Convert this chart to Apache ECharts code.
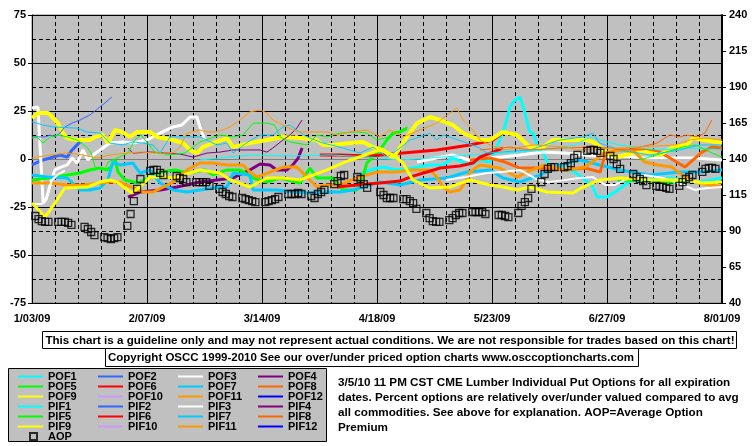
<!DOCTYPE html>
<html><head><meta charset="utf-8">
<script src="https://cdn.jsdelivr.net/npm/echarts@6/dist/echarts.min.js"></script>
<style>html,body{margin:0;padding:0;background:#fff;}#c{width:755px;height:446px;}</style>
</head><body><div id="c"></div>
<script>
// x values are days since 1/03/09; left axis = % over/under valued; right axis = AOP premium
const tickLabels = ['1/03/09','2/07/09','3/14/09','4/18/09','5/23/09','6/27/09','8/01/09'];
const leftTicks = [-75,-50,-25,0,25,50,75];
const rightTicks = [40,65,90,115,140,165,190,215,240];

const POF1 = [[99.8,-8.3],[102.9,-5.7],[106.8,-4.2],[111.1,-5.7],[115.9,-4.7],[121.1,-3.1],[125.1,-3.1],[128.1,0.5],[133.3,-3.1],[136.3,-0.5],[139.4,-1.6],[142.4,9.9],[143.9,16.7],[145.5,27.1],[147,30.7],[148.5,32.3],[150,24],[151.5,14.1],[152.5,13.5],[154,6.2],[155.5,3.6],[157.6,-4.7],[160.7,-4.2],[165.2,-6.8],[168.3,-10.9],[170.7,-14.6],[172,-19.8],[175,-19.8],[177.4,-17.2],[182.6,-10.9],[186.5,-10.9],[194.2,-9.9],[203.3,-12],[210,-9.9]];
const POF2 = [[0,-3.1],[3.3,-0.5],[5.5,0.5],[8.5,2.1],[10.7,1],[12.2,4.7],[14.6,8.9],[16.1,10.9]];
const POF3 = [[0,26.6],[1.8,27.1],[3.4,-22.9],[4.3,-21],[5.5,-13.5],[7,-5.7],[8.8,-4.2],[10.7,-3.1],[12.2,0.5],[13.7,-2.1],[15.5,4.7],[17,-0.5],[18.6,2.1],[20.7,4.7],[23.7,8.3],[27.7,8.9],[30.7,8.3],[35,9.9],[39,13.5],[42.9,16.7],[45.6,17.7],[48.1,21.9],[50.2,21.9],[51.1,16.7],[52.6,9.9],[53,null],[117.2,-1.6],[123,0.5],[128,2.1],[133,-0.5],[139,0.5],[143,1],[148.5,2.1],[155.5,3.6],[162,3.1],[168,2.1],[175,1],[180,1.6],[186.5,0.5],[194.8,0.5],[201.7,0.5],[210,-0.5]];
const POF4 = [[29.2,-19.8],[32.9,-17.2],[39,-16.1],[44.1,-14.6],[51.1,-12],[56.3,-10.9],[61.2,-9.9],[66.3,-5.7],[69.4,-2.6],[72.4,-3.1],[74.5,-5.7],[77.6,-5.7],[79.4,-3.1],[81,0.5],[82.2,5.7]];
const POF5 = [[0,-10.9],[4.9,-9.9],[7,-9.4],[10.7,-8.3],[14.6,-7.3],[17.6,-5.7],[20.7,-4.7],[22.8,-5.7],[24,-4.2],[25.3,-0.5],[26.2,-6.8],[28.3,-10.9],[32.3,-12.5],[39.3,-6.8],[43.5,-5.7],[47.5,-7.3],[52.6,-5.7],[55.1,-8.3],[59.3,-5.7],[63.3,-5.7],[67.3,-9.9],[71.5,-12],[75.5,-9.9],[81.6,-12.5],[84.6,-4.7],[86.7,-9.9],[91.6,-9.9],[94.6,-16.1],[98.9,-16.1],[100.7,-9.4],[101.9,-2.1],[103.8,1],[105.9,4.7],[108,9.9],[109.9,13.5],[112,14.1],[114.1,16.1],[115,null],[178.3,-11.5],[182.9,-10.9],[188,-11.5],[193.2,-12],[198.7,-12]];
const POF6 = [[87.6,2.1],[93.7,2.1],[102.9,1.6],[112.9,3.1],[123.2,4.7],[133.3,7.3],[140.3,9.9],[143.3,13.5]];
const POF7 = [[0,-8.3],[4.6,-9.4],[10.7,-9.9],[14.6,-16.1],[17.6,-16.1],[20.7,-15.1],[23.1,-10.9],[24.6,-1.6],[26.8,-3.1],[30.7,-2.1],[32.9,-7.3],[35.9,-5.7],[39,-12.5],[42.9,-16.1],[47.2,-17.2],[51.1,-16.1],[55.1,-15.1],[59.3,-14.6],[61.2,-7.3],[66.3,-8.3],[67.3,-16.1],[74.6,-16.1],[79.4,-17.2],[84.6,-17.7],[89.8,-17.2],[93.7,-17.2],[97.7,-16.1],[100.7,-14.6],[105.9,-12],[112,-13.5],[118.1,-10.9],[126.3,-9.9],[132.4,-6.8],[139.4,-5.7],[143.3,-9.9],[148.5,-12],[154.8,-8.3],[160.7,-3.1],[166.8,-0.5],[172.8,-3.1],[178.9,-5.7],[188,-8.3],[197.2,-6.8],[203.3,-6.8],[210,-5.7]];
const POF8 = [[133.3,-0.5],[139.4,0.5],[144,-1.6],[148.5,-4.7],[156.1,-4.7],[162.2,-5.7],[168.3,-4.7],[172.9,-6.8],[174.4,2.1],[178,4.7],[186,4.7],[191.1,3.6],[198.7,-4.2],[203.9,3.6],[206.9,6.2],[210,5.7]];
const POF9 = [[0,21.4],[1.8,24],[4.9,24],[7.9,18.7],[9.4,13.5],[10.7,10.9],[13.7,9.9],[17.6,9.9],[19.2,11.5],[21.6,12.5],[23.1,8.3],[25.3,15.1],[27.4,14.1],[29.8,11.5],[32,14.1],[35.9,14.1],[38,11.5],[42.9,9.9],[46,8.3],[48.1,4.7],[50.2,3.1],[52,6.2],[55,8.3],[59.3,10.9],[61.2,6.2],[66.3,8.3],[71.5,9.9],[76.4,11.5],[81.6,10.9],[86.7,9.9],[88.6,7.3],[91.6,7.3],[96.8,8.3],[100.7,8.9],[103.8,6.2],[106.8,4.7],[109.9,0.5],[114.1,11.5],[117.2,18.7],[121.1,21.9],[124.2,20.3],[128.1,17.7],[131.2,13.5],[136.3,9.9],[139.4,9.9],[143.3,14.1],[147.6,12.5],[151.5,6.2],[155.5,6.2],[158.5,9.9],[162.8,9.9],[168.9,9.9],[170.7,8.9],[172.9,6.2],[175,3.1],[178,1],[182.9,3.1],[187.1,3.6],[191.1,2.1],[195.1,6.2],[199.3,7.3],[201.1,10.9],[204.2,9.9],[208.4,8.9],[210,8.3]];
const POF10 = [];
const POF11 = [[0,-12.5],[5.5,-12.5],[10.7,-13.5],[15.5,-13.5],[23.7,-12],[26.8,-12],[33.8,-17.2],[36.8,-17.2],[39.9,-14.6],[42.9,-12],[47.2,-5.7],[51.1,-2.1],[55.1,-2.1],[59.3,-3.1],[64.2,-3.1],[66.3,-6.8],[68.5,-9.4],[72.4,-6.8],[76.4,-4.2],[80.6,-4.2],[83.7,-9.4],[86.7,-14.6],[89.8,-13.5],[93.7,-13.5],[98.9,-9.9],[101.9,-8.3],[105,-6.8],[110.5,-6.8],[115.9,-5.7],[121.1,-5.7],[123.2,-9.4],[125.1,-14.6],[127.2,-17.2],[130.2,-16.1],[132.4,-10.9],[133.3,-6.8],[136.3,-3.1],[142.4,-4.7],[147.6,-9.4],[150.6,-6.8],[156.1,-3.1],[162.2,-5.7],[168.3,-4.2],[174.4,3.1],[179.5,4.7],[183.5,3.6],[186.5,-1.6],[190.5,-3.1],[194.8,-4.2],[198.7,-9.4],[202.7,-12.5],[210,-14.6]];
const POF12 = [];

const PIF1 = [[51.1,-0.5],[66.3,2.1],[79.4,1.6],[90.7,2.1],[102.9,1],[112,-0.5],[121.1,0.5],[133.3,2.1],[142.4,3.1],[148.5,3.6],[156.1,4.7],[165.3,7.3],[169.8,11.5],[172.8,9.9],[178.9,7.3],[191.1,4.7],[200.2,5.7],[210,4.7]];
const PIF2 = [[0,11.5],[4,11.5],[5.5,12.5],[7,11.5],[8.5,13.5],[10,16.7],[12.2,18.7],[14.6,20.3],[17.6,22.9],[20.7,27.1],[22.2,29.2],[24.3,32.3]];
const PIF3 = [[0,-23.4],[3,-23.4],[4.5,-20],[6,-11],[8,-8],[10,-6],[10.5,null],[126,-10.9],[132,-9.4],[138.5,-7.3],[143,-6.8],[148.5,-5.7],[153,-10],[157,-12],[162,-11],[166,-10],[170.7,-9.4],[174.4,-13.5],[177.4,-13.5],[180.4,-10.9],[186.5,-8.3],[192,-9.9],[196,-12],[201.7,-16.1],[205.6,-15.1],[210,-14.6]];
const PIF4 = [[29.2,5.7],[30.7,3.1],[35.9,3.6],[41.1,3.1],[45,2.6],[49,1],[53.3,3.1],[57.2,3.6],[61.2,4.7],[66.3,4.7],[69.4,4.7],[71.5,3.6],[73.3,5.7],[76.4,9.9],[78.5,12.5],[80.6,16.1],[82.2,20.3]];
const PIF5 = [[0,10.9],[1.5,11.5],[3.3,8.3],[5.5,11.5],[7.9,12.5],[10.7,11.5],[13.7,9.9],[16.7,6.2],[18,3.1],[19.2,-4.2],[22.2,-5.7],[23.1,-1.6],[29.2,3.1],[31.3,9.9],[33.2,12.5],[37.4,3.6],[41.4,2.1],[46.6,3.1],[51.1,8.9],[57.2,12.5],[61.2,11.5],[64.2,12.5],[67.3,18.7],[71.5,18.7],[73.9,17.7],[75.5,11.5],[78.5,8.9],[83.7,7.3],[86.7,12.5],[89.8,11.5],[93.7,13.5],[98.9,14.1],[101.9,13.5],[105,9.9],[108.9,11.5],[114.4,16.7],[115,null],[185,-0.5],[198,6.2],[202,7.3],[207,3.1],[210,1]];
const PIF6 = [[92.8,-14.6],[101.9,-13],[105.9,-12.5],[112,-11.5],[115.9,-8.9],[120.2,-6.8],[124.2,-4.7],[130.2,-3.6],[134.2,-2.1],[136.3,1],[140.3,3.6],[143.3,5.7]];
const PIF7 = [[0,19.3],[3.3,17.7],[6.4,16.7],[13.7,16.1],[16.7,14.1],[20.7,13.5],[23.7,8.3],[27.7,7.3],[30.7,8.9],[33.8,8.3],[36.8,7.3],[39,3.1],[42,11.5],[47.2,11.5],[51.1,11.5],[56.3,7.3],[59.3,8.3],[61.2,3.1],[65.7,8.9],[69.4,12.5],[73.3,12.5],[76.4,16.7],[78.5,17.7],[80.6,15.1],[83.7,11.5],[88.6,8.3],[93.7,6.2],[99.8,3.1],[103.8,6.2],[108,1],[112,5.7],[115,9.9],[118.1,11.5],[121.1,13.5],[123.2,9.9],[125.1,12.5],[128.1,10.9],[132.4,8.3],[136.3,5.7],[138.5,3.1],[142.4,3.6],[151.5,4.7],[160.7,9.9],[167.7,11.5],[170.7,13.5],[172.8,8.3],[178.9,4.7],[188,2.1],[197.2,4.7],[203.3,7.3],[210,7.3]];
const PIF8 = [[136.3,4.7],[145.5,6.2],[151.5,4.7],[160.7,5.7],[169.8,6.2],[175.9,5.7],[181,4.7],[185,6.2],[190.2,8.3],[194.1,12.5],[197.2,11.5],[199.3,12.5],[202.4,11.5],[204.8,13.5],[206.9,20.3]];
const PIF9 = [[0,-22.9],[4,-30.2],[7,-22.9],[10,-15.1],[16.7,-14.6],[20.7,-12],[23.7,-10.9],[25.9,-12],[30.4,-17.7],[32.9,-14.6],[35.9,-9.4],[41.1,-9.4],[42.9,-9.9],[51.1,-5.7],[55,-6.8],[57.2,-7.3],[60.3,-10.9],[66.3,-14.6],[71.5,-9.9],[76.4,-9.9],[81.6,-10.9],[89.8,-5.7],[95.2,-1.6],[101.3,2.1],[105.9,4.7],[109.9,2.1],[112.9,-2.1],[115.9,-10.9],[121.1,-15.1],[127.2,-14.6],[133.3,-10.9],[139.4,-13.5],[143.3,-14.6],[147.6,-16.1],[151.5,-14.6],[156.7,-17.2],[164.6,-17.7],[167.7,-14.6],[172.8,-10.9],[178.9,-9.9],[188,-10.9],[199.6,-10.9],[203.9,-12.5],[210,-12]];
const PIF10 = [];
const PIF11 = [[0,0.5],[5.5,2.1],[10.7,3.1],[15.5,2.1],[19.8,0.5],[23.7,2.1],[28.9,3.1],[32.9,3.6],[38,3.1],[42.9,3.1],[45,6.2],[47.2,13.5],[51.1,15.1],[53.3,14.1],[56.3,14.1],[60.3,16.7],[63.3,20.3],[66.3,24.5],[69.4,25.5],[71.5,24],[73.3,20.3],[77.6,16.7],[80.6,14.1],[85.5,14.1],[89.8,14.1],[92.8,12.5],[96.8,14.1],[101.9,15.1],[105.9,11.5],[108.9,15.1],[112.9,11.5],[118.1,15.1],[123.2,18.7],[127.2,24],[129.3,26.6],[131.2,20.3],[134.2,15.1],[136.3,9.9],[139.4,7.3],[143.9,4.7],[152.5,7.3],[162.8,6.2],[166.1,4.7],[178.9,5.7],[195.7,7.3],[200.2,9.9],[204.8,10.9],[210,9.9]];
const PIF12 = [];

// Average option premium, one value per trading day (5 per week), null = no trade
const AOP = [
 100.4,98.3,96.9,96.3,96.3, 96.3,96.3,96.3,95.6,94.2, null,92.8,91.4,89.3,87.2, 85.8,85.1,84.4,85.1,85.8,
 93.5,101.8,110.8,119.2,126.1, 131.7,132.4,132.4,130.3,128.9, null,128.2,126.8,126.1,124.0, 124.0,124.0,124.0,124.0,121.3,
 119.2,117.1,115.7,114.3,113.6, 112.9,112.2,111.5,110.8,110.1, 110.1,110.8,111.5,112.2,113.6, 115.7,115.7,115.7,116.4,115.7,
 114.3,112.9,115.7,117.1,118.5, 122.6,124.7,128.2,128.9,null, 127.5,126.1,122.6,119.9,null, 117.1,115.0,112.9,112.9,112.9,
 112.2,112.2,110.8,109.4,105.3, 102.5,99.0,96.9,96.3,96.3, 97.6,99.0,101.1,102.5,102.5, 103.2,103.2,103.2,103.2,101.8,
 null,101.1,101.1,100.4,99.7, 102.5,107.4,110.0,112.9,119.2, 124.0,129.6,133.1,134.4,134.4, 134.4,135.1,137.2,140.7,142.8,
 145.6,146.3,146.3,145.6,144.2, 142.1,140.0,136.5,133.1,null, 129.6,127.5,126.0,124.7,121.9, 121.3,120.6,120.6,120.0,119.2,
 121.3,124.0,126.1,127.5,128.9, 131.0,133.1,133.8,133.8,133.1
];

const names = ['POF1','POF2','POF3','POF4','POF5','POF6','POF7','POF8','POF9','POF10','POF11','POF12',
               'PIF1','PIF2','PIF3','PIF4','PIF5','PIF6','PIF7','PIF8','PIF9','PIF10','PIF11','PIF12'];
const dataMap = {POF1,POF2,POF3,POF4,POF5,POF6,POF7,POF8,POF9,POF10,POF11,POF12,
                 PIF1,PIF2,PIF3,PIF4,PIF5,PIF6,PIF7,PIF8,PIF9,PIF10,PIF11,PIF12};
const colors = ['#00FFFF','#3366FF','#FFFFFF','#800080','#00FF00','#FF0000','#00CCFF','#FF6600','#FFFF00','#CC99FF','#FF9900','#0000FF'];
const pofW = [3,3,3,3,3,3,3,3,4,3,3,3];
const pifW = [1,1,2,1,1,3,1,1,3,1,1,2];

const aopDays = AOP.map((v,i)=>7*Math.floor(i/5)+1+(i%5));

const FONT = "'Liberation Sans', Arial, sans-serif";
const series = names.map((n,i)=>{
  const k = i%12, isPof = i<12;
  return {
    name:n, type:'line', xAxisIndex:0, yAxisIndex:0, symbol:'none', smooth:false,
    connectNulls:false, animation:false,
    lineStyle:{color:colors[k], width: isPof?pofW[k]:pifW[k]},
    itemStyle:{color:colors[k]},
    data:dataMap[n], z: 2
  };
});
series.push({
  name:'AOP', type:'scatter', yAxisIndex:1, symbol:'rect', symbolSize:7,
  itemStyle:{color:'rgba(0,0,0,0)', borderColor:'#000', borderWidth:1.3},
  data: AOP.map((v,i)=>[aopDays[i], v]).filter(d=>d[1]!==null), z: 5, animation:false
});

const legTxt = {fontSize:11, fontWeight:'bold', fontFamily:FONT, color:'#000', lineHeight:10};
const legBase = {orient:'vertical', itemGap:-1, itemWidth:25, itemHeight:1, padding:0, selectedMode:false,
  itemStyle:{opacity:0}, textStyle:legTxt};
const legend = [
  Object.assign({}, legBase, {left:17, top:371, data:['POF1','POF5','POF9','PIF1','PIF5','PIF9']}),
  Object.assign({}, legBase, {left:97, top:371, data:['POF2','POF6','POF10','PIF2','PIF6','PIF10']}),
  Object.assign({}, legBase, {left:177, top:371, data:['POF3','POF7','POF11','PIF3','PIF7','PIF11']}),
  Object.assign({}, legBase, {left:257, top:371, data:['POF4','POF8','POF12','PIF4','PIF8','PIF12']}),
  {orient:'vertical', left:29, top:431, itemWidth:7, itemHeight:7, padding:0, selectedMode:false,
   textStyle:Object.assign({}, legTxt, {padding:[0,0,0,6]}), data:['AOP']}
];

const descLines = [
  '3/5/10 11 PM CST CME Lumber Individual Put Options for all expiration',
  'dates. Percent options are relatively over/under valued compared to avg',
  'all commodities. See above for explanation. AOP=Average Option',
  'Premium'
];
const note1 = 'This chart is a guideline only and may not represent actual conditions. We are not responsible for trades based on this chart!';
const note2 = 'Copyright OSCC 1999-2010 See our over/under priced option charts www.osccoptioncharts.com';

const graphic = [
  {type:'rect', shape:{x:42.5,y:331.5,width:694,height:17}, style:{fill:'#fff',stroke:'#000',lineWidth:1}, z:10},
  {type:'text', x:390, y:340.5, style:{text:note1, font:'bold 11.6px '+FONT, fill:'#000', textAlign:'center', textVerticalAlign:'middle'}, z:11},
  {type:'rect', shape:{x:105.5,y:348.5,width:533,height:18}, style:{fill:'#fff',stroke:'#000',lineWidth:1}, z:10},
  {type:'text', x:371, y:358, style:{text:note2, font:'bold 11.5px '+FONT, fill:'#000', textAlign:'center', textVerticalAlign:'middle'}, z:11},
  {type:'rect', shape:{x:8.5,y:368.5,width:318,height:73}, style:{fill:'#C0C0C0',stroke:'#000',lineWidth:1}, z:0}
].concat(descLines.map((t,i)=>({type:'text', x:338, y:383+15*i,
  style:{text:t, font:'bold 11.7px '+FONT, fill:'#000', textAlign:'left', textVerticalAlign:'middle'}, z:11})));

const axisLbl = {fontSize:11, fontWeight:'bold', fontFamily:FONT, color:'#000'};
const option = {
  animation:false,
  backgroundColor:'#fff',
  grid:{left:32, right:33, top:15, bottom:143, show:true, backgroundColor:'#C0C0C0', borderColor:'#808080', borderWidth:1},
  xAxis:{type:'value', min:0, max:210, interval:35,
    axisLine:{show:true, lineStyle:{color:'#808080', width:1}},
    axisTick:{show:true, inside:true, length:4, lineStyle:{color:'#000'}},
    minorTick:{show:true, splitNumber:5, length:3, lineStyle:{color:'#000'}},
    splitLine:{show:true, lineStyle:{color:'#000', width:1, type:'solid'}},
    minorSplitLine:{show:true, lineStyle:{color:'#000', width:1, type:[4,3]}},
    axisLabel:Object.assign({margin:10, formatter:v=>tickLabels[Math.round(v/35)]}, axisLbl)
  },
  yAxis:[
    {type:'value', min:leftTicks[0], max:leftTicks[leftTicks.length-1], interval:25, position:'left',
      axisLine:{show:true, onZero:false, lineStyle:{color:'#000', width:1}},
      axisTick:{show:true, length:4, lineStyle:{color:'#000'}},
      splitLine:{show:true, lineStyle:{color:'#000', width:1, type:'solid'}},
      minorTick:{show:false, splitNumber:2},
      minorSplitLine:{show:true, lineStyle:{color:'#000', width:1, type:[4,3]}},
      axisLabel:Object.assign({margin:6}, axisLbl)
    },
    {type:'value', min:rightTicks[0], max:rightTicks[rightTicks.length-1], interval:25, position:'right',
      axisLine:{show:true, onZero:false, lineStyle:{color:'#000', width:2}},
      axisTick:{show:true, length:4, lineStyle:{color:'#000', width:1}},
      splitLine:{show:false},
      axisLabel:Object.assign({margin:7}, axisLbl)
    }
  ],
  legend:legend,
  graphic:graphic,
  series:series
};
const chart = echarts.init(document.getElementById('c'), null, {renderer:'canvas'});
chart.setOption(option);
</script>
</body></html>
